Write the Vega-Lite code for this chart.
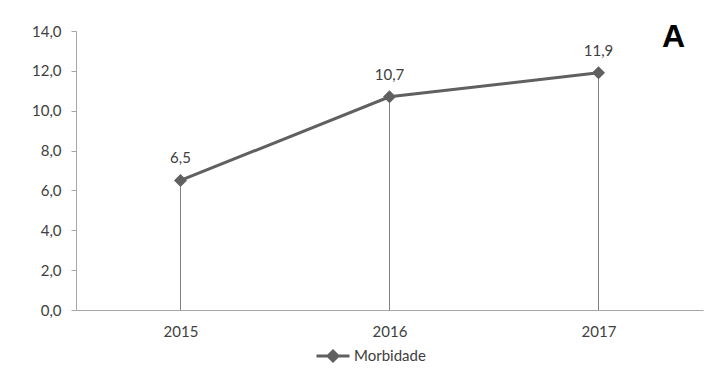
{
  "$schema": "https://vega.github.io/schema/vega-lite/v6.json",
  "autosize": {"type": "none"},
  "width": 627,
  "height": 279,
  "padding": {"left": 76, "top": 31, "right": 13, "bottom": 66},
  "background": "white",
  "config": {
    "view": {"stroke": null},
    "locale": {"number": {"decimal": ",", "thousands": ".", "grouping": [3], "currency": ["R$", ""]}},
    "font": "Lato"
  },
  "title": {
    "text": "A",
    "anchor": "end",
    "frame": "group",
    "font": "Liberation Sans",
    "fontSize": 32,
    "fontWeight": "bold",
    "color": "#000000",
    "baseline": "alphabetic",
    "offset": -38,
    "dy": 17,
    "dx": -18
  },
  "data": {
    "values": [
      {"ano": "2015", "valor": 6.5, "serie": "Morbidade"},
      {"ano": "2016", "valor": 10.7, "serie": "Morbidade"},
      {"ano": "2017", "valor": 11.9, "serie": "Morbidade"}
    ]
  },
  "encoding": {
    "x": {
      "field": "ano",
      "type": "ordinal",
      "scale": {"type": "point", "padding": 0.5},
      "axis": {
        "title": null,
        "labelAngle": 0,
        "ticks": false,
        "domainColor": "#a6a6a6",
        "labelColor": "#404040",
        "labelFontSize": 15,
        "labelPadding": 14,
        "grid": false
      }
    },
    "y": {
      "field": "valor",
      "type": "quantitative",
      "scale": {"domain": [0, 14], "nice": false},
      "axis": {
        "title": null,
        "values": [0, 2, 4, 6, 8, 10, 12, 14],
        "format": ".1f",
        "grid": false,
        "domainColor": "#a6a6a6",
        "tickColor": "#a6a6a6",
        "tickSize": 5,
        "labelPadding": 10,
        "labelColor": "#404040",
        "labelFontSize": 15
      }
    }
  },
  "layer": [
    {
      "mark": {"type": "rule", "color": "#808080", "strokeWidth": 1},
      "encoding": {"y2": {"datum": 0}}
    },
    {
      "mark": {"type": "line", "strokeWidth": 3},
      "encoding": {
        "color": {
          "field": "serie",
          "type": "nominal",
          "scale": {"range": ["#606060"]},
          "legend": {
            "title": null,
            "orient": "none",
            "legendX": 239,
            "legendY": 307,
            "symbolType": "M-1,0H1M0,-0.3L0.3,0L0,0.3L-0.3,0Z",
            "symbolSize": 1089,
            "symbolStrokeWidth": 3,
            "symbolFillColor": "#606060",
            "labelFontSize": 15,
            "labelColor": "#404040",
            "labelOffset": 3
          }
        }
      }
    },
    {
      "mark": {"type": "point", "shape": "diamond", "filled": true, "size": 170, "color": "#606060", "opacity": 1}
    },
    {
      "mark": {"type": "text", "baseline": "alphabetic", "dy": -17, "fontSize": 15, "color": "#404040"},
      "encoding": {"text": {"field": "valor", "type": "quantitative", "format": ".1f"}}
    }
  ]
}
